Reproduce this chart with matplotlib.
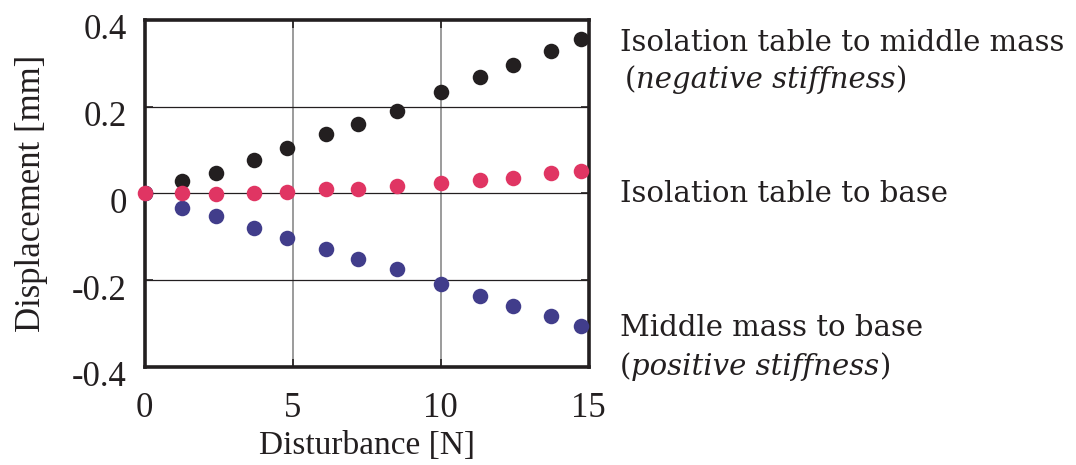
import matplotlib.pyplot as plt
import matplotlib.transforms as mtransforms

plt.rcParams['font.family'] = 'Liberation Serif'

# disturbance force [N]
force = [0, 1.27, 2.40, 3.69, 4.81, 6.11, 7.22, 8.51, 10.01, 11.32, 12.43, 13.73, 14.73]
# displacements [mm]
table_to_middle = [0, 0.028, 0.048, 0.077, 0.104, 0.136, 0.160, 0.191, 0.233, 0.268, 0.295, 0.328, 0.355]
table_to_base = [0, 0.001, -0.001, 0.001, 0.004, 0.009, 0.009, 0.017, 0.024, 0.031, 0.036, 0.046, 0.051]
middle_to_base = [0, -0.033, -0.052, -0.079, -0.102, -0.128, -0.152, -0.175, -0.210, -0.238, -0.260, -0.282, -0.305]

xticks = [0, 5, 10, 15]
yticks = [-0.4, -0.2, 0, 0.2, 0.4]
ytick_labels = ['-0.4', '-0.2', '0', '0.2', '0.4']

dark = '#231f20'
fig = plt.figure(figsize=(10.76, 4.65), dpi=100)
ax = fig.add_axes([0.1345, 0.2114, 0.4126, 0.7456])

ax.scatter(force, table_to_middle, s=125, color=dark, zorder=3, linewidths=0)
ax.scatter(force, middle_to_base, s=125, color='#413d8b', zorder=3, linewidths=0)
ax.scatter(force, table_to_base, s=125, color='#e03563', zorder=4, linewidths=0, clip_on=False)

ax.set_xlim(0, 15)
ax.set_ylim(-0.4, 0.4)
ax.set_xticks(xticks)
ax.set_xticklabels([str(t) for t in xticks])
ax.set_yticks(yticks)
ax.set_yticklabels(ytick_labels)

for x in xticks[1:-1]:
    ax.axvline(x, color='#8a8a8a', lw=1.2, zorder=1)
for y in yticks[1:-1]:
    ax.axhline(y, color=dark, lw=0.9, zorder=1)

for s in ax.spines.values():
    s.set_linewidth(2.6)
    s.set_color(dark)

ax.tick_params(direction='in', length=6, width=1.2, color=dark, labelsize=25,
               labelcolor=dark, top=True, right=True)
ax.tick_params(axis='x', pad=18)
ax.tick_params(axis='y', pad=13)
# y tick labels sit a little below their gridlines
shift = mtransforms.ScaledTranslation(0, -7 / 100, fig.dpi_scale_trans)
for lab in ax.get_yticklabels():
    lab.set_transform(lab.get_transform() + shift)

ax.set_xlabel('Disturbance [N]', fontsize=24, color=dark, labelpad=4)
ax.set_ylabel('Displacement [mm]', fontsize=25, color=dark, labelpad=17)

# series labels beside the plot
fs = 21
ff = 'DejaVu Serif'
fig.text(620 / 1076, 1 - 43 / 465, 'Isolation table to middle mass', fontsize=fs, color=dark,
         va='center', family=ff)
t = fig.text(625 / 1076, 1 - 80 / 465, '(', fontsize=fs, color=dark, va='center', family=ff)
t = ax.annotate('negative stiffness', xy=(1, 0), xycoords=t, va='bottom', fontsize=fs,
                color=dark, style='italic', family=ff)
ax.annotate(')', xy=(1, 0), xycoords=t, va='bottom', fontsize=fs, color=dark, family=ff)

fig.text(620 / 1076, 1 - 194 / 465, 'Isolation table to base', fontsize=fs, color=dark,
         va='center', family=ff)

fig.text(620 / 1076, 1 - 328 / 465, 'Middle mass to base', fontsize=fs, color=dark,
         va='center', family=ff)
t = fig.text(620 / 1076, 1 - 367 / 465, '(', fontsize=fs, color=dark, va='center', family=ff)
t = ax.annotate('positive stiffness', xy=(1, 0), xycoords=t, va='bottom', fontsize=fs,
                color=dark, style='italic', family=ff)
ax.annotate(')', xy=(1, 0), xycoords=t, va='bottom', fontsize=fs, color=dark, family=ff)

fig.savefig('out.png', dpi=100)
